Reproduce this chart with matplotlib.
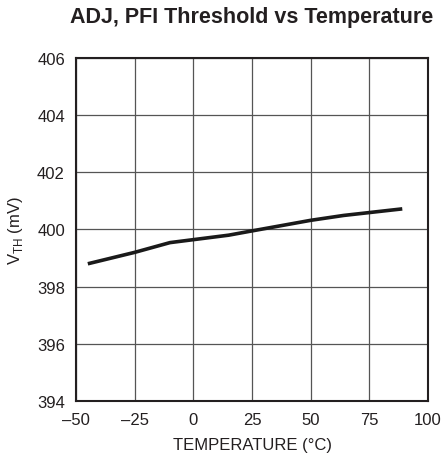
import matplotlib
matplotlib.use("Agg")
import matplotlib.pyplot as plt

# temperature sweep
temp = [-45, -25, -10, 15, 25, 50, 64, 89]
vth = [398.8, 399.2, 399.54, 399.8, 399.95, 400.32, 400.49, 400.72]

xticks = [-50, -25, 0, 25, 50, 75, 100]
xlabels = ["\u201350", "\u201325", "0", "25", "50", "75", "100"]
yticks = [394, 396, 398, 400, 402, 404, 406]

fam = "Liberation Sans"
plt.rcParams["font.family"] = [fam, "DejaVu Sans"]
plt.rcParams["mathtext.fontset"] = "custom"
plt.rcParams["mathtext.rm"] = fam

fig = plt.figure(figsize=(4.45, 4.6), dpi=100)
ax = fig.add_axes([0.171, 0.126, 0.791, 0.746])

ax.plot(temp, vth, color="#1a1a1a", lw=2.6, solid_capstyle="butt")

ax.set_xlim(-50, 100)
ax.set_ylim(394, 406)
ax.set_xticks(xticks, xlabels)
ax.set_yticks(yticks)
ax.tick_params(axis="x", length=0, labelsize=12, pad=8, colors="#231f20")
ax.tick_params(axis="y", length=0, labelsize=12, pad=8, colors="#231f20")
ax.grid(True, color="#555555", lw=0.9)
for s in ax.spines.values():
    s.set_linewidth(1.5)
    s.set_color("#231f20")

ax.set_xlabel("TEMPERATURE (\u00b0C)", fontsize=12, color="#231f20", labelpad=7)
ax.set_ylabel("V$_{\\mathrm{TH}}$ (mV)", fontsize=12, color="#231f20", labelpad=9)
ax.set_title("ADJ, PFI Threshold vs Temperature", fontsize=15.5, fontweight="bold",
             color="#231f20", pad=26)

fig.savefig("out.png", dpi=100)
